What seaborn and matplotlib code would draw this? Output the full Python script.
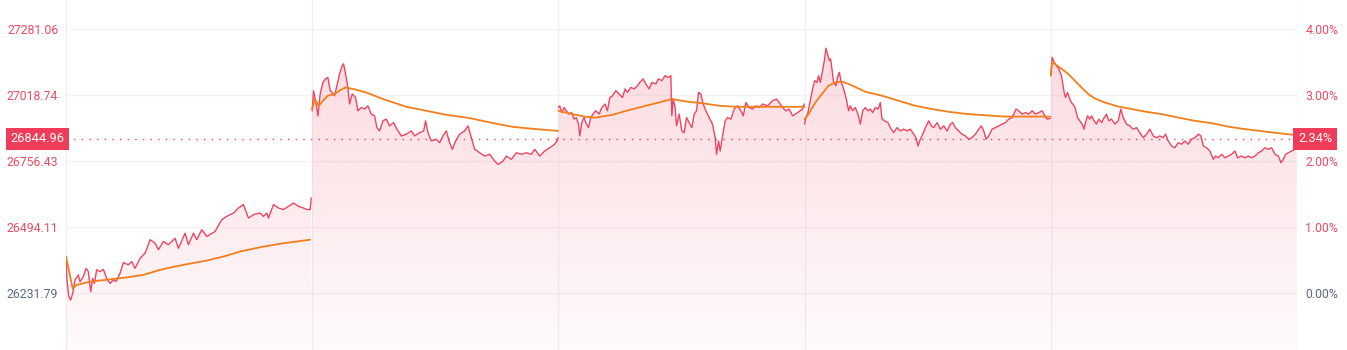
import numpy as np
import pandas as pd
import matplotlib
matplotlib.use("Agg")
import matplotlib.pyplot as plt
import seaborn as sns

# ---------------- data ----------------
base_price = 26231.79
last_price = 26844.96
last_pct = 2.34
price_ticks = [26231.79, 26494.11, 26756.43, 27018.74, 27281.06]
pct_ticks = [0.0, 1.0, 2.0, 3.0, 4.0]

# time steps within each session (0..738) and prices
d1_t = [0, 2, 8, 14, 20, 27, 37, 42, 52, 60, 67, 74, 80, 85, 92, 102, 112, 122, 132, 142, 150, 162, 172, 187,
        197, 207, 222, 237, 252, 267, 277, 292, 307, 327, 337, 357, 367, 382, 392, 407, 422, 447, 467, 482,
        502, 517, 532, 547, 562, 582, 592, 602, 607, 622, 637, 652, 682, 697, 712, 722, 732, 735]
d1_p = [26377, 26297, 26220, 26204, 26230, 26284, 26304, 26277, 26297, 26330, 26317, 26237, 26290, 26270,
        26324, 26317, 26326, 26290, 26270, 26284, 26277, 26310, 26353, 26344, 26357, 26330, 26370, 26390,
        26444, 26430, 26404, 26437, 26424, 26450, 26410, 26470, 26424, 26470, 26444, 26484, 26457, 26477,
        26524, 26537, 26550, 26570, 26584, 26530, 26544, 26550, 26537, 26550, 26530, 26584, 26570, 26564,
        26590, 26577, 26570, 26564, 26564, 26610]
d1_avg_t = [0, 20, 32, 72, 132, 182, 232, 282, 352, 422, 472, 522, 582, 642, 732]
d1_avg = [26377, 26250, 26264, 26277, 26286, 26294, 26304, 26324, 26344, 26361, 26377, 26397, 26414, 26428, 26444]

d2_t = [0, 4, 12, 17, 24, 32, 40, 47, 54, 60, 67, 74, 82, 90, 94, 100, 107, 112, 120, 130, 137, 147, 157, 167,
        177, 187, 194, 202, 212, 222, 232, 244, 254, 267, 282, 297, 307, 322, 334, 340, 347, 357, 372, 382,
        392, 402, 412, 420, 430, 442, 457, 467, 477, 487, 502, 517, 532, 547, 557, 572, 582, 597, 612, 627,
        642, 657, 667, 682, 697, 712, 727, 734, 737]
d2_p = [26957, 27037, 26984, 26937, 27024, 27070, 27084, 27090, 27037, 27030, 27017, 27057, 27104, 27137,
        27144, 27104, 27050, 26984, 27024, 27010, 26957, 26970, 26964, 26977, 26944, 26937, 26890, 26877,
        26917, 26924, 26897, 26910, 26884, 26857, 26864, 26877, 26857, 26870, 26877, 26917, 26870, 26837,
        26844, 26830, 26857, 26877, 26830, 26804, 26837, 26864, 26877, 26897, 26850, 26804, 26790, 26777,
        26784, 26757, 26744, 26757, 26777, 26764, 26790, 26784, 26790, 26784, 26804, 26777, 26797, 26810,
        26824, 26837, 26850]
d2_avg_t = [0, 7, 20, 32, 47, 67, 82, 100, 122, 162, 212, 282, 342, 402, 472, 542, 602, 672, 737]
d2_avg = [26964, 27004, 26977, 26997, 27017, 27024, 27037, 27050, 27044, 27030, 27004, 26973, 26957, 26941,
          26928, 26908, 26893, 26884, 26877]

d3_t = [0, 4, 10, 17, 24, 32, 40, 47, 54, 60, 64, 70, 77, 82, 90, 97, 104, 112, 122, 130, 140, 147, 154, 162,
        172, 182, 192, 200, 207, 217, 227, 237, 244, 254, 262, 272, 280, 292, 300, 310, 320, 327, 334, 337,
        340, 344, 350, 354, 362, 370, 377, 384, 392, 400, 407, 414, 420, 427, 434, 442, 452, 462, 470, 474,
        480, 485, 492, 500, 507, 517, 527, 537, 547, 554, 562, 572, 582, 592, 602, 612, 627, 642, 654, 662,
        672, 682, 692, 702, 717, 732, 737]
d3_p = [26970, 26977, 26950, 26970, 26957, 26944, 26950, 26924, 26930, 26904, 26857, 26910, 26930, 26910,
        26890, 26930, 26944, 26957, 26944, 26970, 26984, 26957, 27010, 27017, 27037, 27024, 27010, 27044,
        27030, 27050, 27044, 27057, 27070, 27084, 27064, 27044, 27070, 27064, 27084, 27077, 27097, 27090,
        27093, 27097, 26937, 27004, 26970, 26897, 26944, 26877, 26870, 26930, 26910, 26890, 26944, 26957,
        27030, 27024, 26984, 26957, 26930, 26904, 26850, 26784, 26837, 26797, 26857, 26917, 26930, 26924,
        26964, 26977, 26957, 26937, 26990, 26970, 26964, 26977, 26970, 26984, 26977, 26997, 27004, 26990,
        26970, 26957, 26964, 26937, 26950, 26964, 26984]
d3_avg_t = [0, 22, 52, 82, 112, 162, 212, 262, 302, 340, 382, 432, 482, 532, 632, 738]
d3_avg = [26957, 26950, 26941, 26933, 26930, 26941, 26960, 26977, 26990, 27004, 26994, 26987, 26977, 26973,
          26973, 26973]

d4_t = [0, 4, 10, 17, 24, 30, 37, 42, 47, 54, 60, 64, 70, 74, 78, 82, 87, 94, 100, 104, 110, 117, 124, 132,
        137, 144, 152, 160, 167, 174, 182, 190, 197, 204, 212, 220, 227, 232, 240, 250, 257, 267, 277, 287,
        297, 307, 317, 327, 334, 340, 347, 354, 362, 372, 380, 387, 397, 407, 417, 427, 437, 444, 452, 462,
        472, 482, 492, 502, 512, 522, 530, 537, 544, 552, 562, 572, 582, 592, 602, 612, 622, 634, 642, 652,
        662, 672, 682, 692, 702, 712, 720, 727, 737]
d4_p = [26904, 26930, 26950, 26997, 27044, 27077, 27070, 27097, 27070, 27117, 27164, 27206, 27177, 27157,
        27164, 27124, 27070, 27057, 27097, 27110, 27070, 27044, 27010, 26957, 26977, 26957, 26970, 26944,
        26904, 26957, 26970, 26957, 26964, 26950, 26970, 26964, 26990, 26924, 26917, 26910, 26890, 26870,
        26890, 26877, 26884, 26877, 26884, 26864, 26850, 26817, 26844, 26864, 26890, 26917, 26897, 26890,
        26910, 26884, 26897, 26877, 26904, 26910, 26890, 26877, 26864, 26857, 26844, 26850, 26864, 26884,
        26897, 26877, 26844, 26857, 26884, 26890, 26897, 26904, 26910, 26924, 26930, 26964, 26957, 26944,
        26950, 26944, 26957, 26944, 26950, 26957, 26937, 26924, 26927]
d4_avg_t = [0, 12, 32, 52, 72, 92, 112, 132, 182, 232, 282, 332, 382, 432, 482, 532, 602, 682, 737]
d4_avg = [26924, 26944, 26990, 27024, 27057, 27070, 27073, 27064, 27033, 27017, 26997, 26977, 26964, 26953,
          26945, 26940, 26934, 26934, 26934]

d5_t = [0, 4, 10, 17, 24, 32, 40, 44, 50, 57, 62, 70, 74, 80, 87, 94, 100, 104, 110, 117, 122, 130, 137, 144,
        152, 160, 167, 174, 182, 192, 202, 210, 217, 227, 237, 247, 257, 267, 277, 287, 297, 307, 317, 327,
        337, 344, 352, 362, 372, 382, 392, 402, 412, 422, 432, 442, 450, 457, 467, 477, 487, 494, 502, 512,
        522, 532, 542, 552, 560, 572, 582, 592, 602, 612, 622, 632, 642, 652, 662, 672, 682, 690, 697, 704,
        712, 722, 732, 737]
d5_p = [27097, 27170, 27150, 27137, 27124, 27097, 27030, 27010, 27030, 27004, 26990, 26977, 26964, 26930,
        26917, 26904, 26884, 26910, 26937, 26924, 26937, 26917, 26904, 26924, 26910, 26930, 26944, 26917,
        26924, 26904, 26917, 26964, 26930, 26904, 26897, 26884, 26890, 26870, 26850, 26864, 26884, 26857,
        26850, 26857, 26850, 26864, 26837, 26817, 26810, 26830, 26824, 26837, 26824, 26844, 26850, 26864,
        26857, 26817, 26810, 26797, 26764, 26777, 26770, 26784, 26770, 26777, 26784, 26797, 26770, 26777,
        26770, 26777, 26770, 26777, 26790, 26797, 26810, 26804, 26810, 26784, 26777, 26750, 26764, 26784,
        26790, 26797, 26804, 26817]
d5_avg_t = [0, 4, 12, 32, 52, 72, 92, 112, 132, 162, 202, 242, 282, 332, 382, 432, 482, 532, 582, 632, 682, 737]
d5_avg = [27097, 27150, 27144, 27124, 27104, 27077, 27050, 27024, 27006, 26990, 26974, 26964, 26954, 26944,
          26930, 26917, 26908, 26894, 26884, 26876, 26868, 26860]

days_t = [d1_t, d2_t, d3_t, d4_t, d5_t]
days_p = [d1_p, d2_p, d3_p, d4_p, d5_p]
avg_t = [d1_avg_t, d2_avg_t, d3_avg_t, d4_avg_t, d5_avg_t]
avg_p = [d1_avg, d2_avg, d3_avg, d4_avg, d5_avg]

# ---------------- build frames ----------------
SESSION = 738
price_df = pd.concat([pd.DataFrame({"day": i, "x": np.array(t) + i * SESSION, "price": p})
                      for i, (t, p) in enumerate(zip(days_t, days_p))], ignore_index=True)
avg_df = pd.concat([pd.DataFrame({"day": i, "x": np.array(t) + i * SESSION, "price": p})
                    for i, (t, p) in enumerate(zip(avg_t, avg_p))], ignore_index=True)

# ---------------- style ----------------
sns.set_theme(style="white")
plt.rcParams['font.family'] = ['Roboto', 'DejaVu Sans']

RED = "#ee4660"
ORANGE = "#f57e1c"
LBL_RED = "#f04a62"
LBL_GREY = "#5b6a82"
BOX = "#ee3c59"

W, H = 1347, 350
fig = plt.figure(figsize=(W / 100, H / 100), dpi=100)
ax = fig.add_axes([66 / W, 0, 1231 / W, 1])

y_lo, y_hi = 26005.0, 27398.0
ax.set_xlim(0, 5 * SESSION)
ax.set_ylim(y_lo, y_hi)

# gradient fill under each session's line
grad = np.linspace(0.22, 0.03, 256)
rgba = np.zeros((256, 1, 4))
rgba[..., :3] = matplotlib.colors.to_rgb(RED)
rgba[:, 0, 3] = grad
for i in range(5):
    sub = price_df[price_df.day == i]
    poly = ax.fill_between(sub.x, sub.price, y_lo, facecolor="none", edgecolor="none")
    im = ax.imshow(rgba, extent=[0, 5 * SESSION, y_lo, y_hi], origin="upper",
                   aspect="auto", zorder=1, interpolation="bilinear")
    im.set_clip_path(poly.get_paths()[0], transform=ax.transData)
ax.set_xlim(0, 5 * SESSION)
ax.set_ylim(y_lo, y_hi)

sns.lineplot(data=price_df, x="x", y="price", units="day", estimator=None,
             color=RED, lw=1.0, ax=ax, zorder=3)
sns.lineplot(data=avg_df, x="x", y="price", units="day", estimator=None,
             color=ORANGE, lw=1.3, ax=ax, zorder=4)

# grid
for p in price_ticks:
    ax.axhline(p, color="#f3f3f3", lw=1, zorder=0.5)
for i in range(6):
    ax.axvline(i * SESSION, color="#f0f0f0", lw=1, zorder=0.5)

ax.axhline(last_price, color=RED, lw=1.0, ls=(0, (1, 4.5)), zorder=5)

for s in ax.spines.values():
    s.set_visible(False)
ax.set_xlabel("")
ax.set_ylabel("")
ax.set_xticks([])
ax.set_yticks(price_ticks)
ax.set_yticklabels([f"{p:.2f}" for p in price_ticks], fontsize=8.8)
ax.tick_params(axis="y", length=0, pad=5.5)
for lab, p in zip(ax.get_yticklabels(), price_ticks):
    lab.set_color(LBL_GREY if abs(p - base_price) < 0.01 else LBL_RED)

ax2 = ax.twinx()
ax2.set_ylim((y_lo / base_price - 1) * 100, (y_hi / base_price - 1) * 100)
ax2.set_yticks(pct_ticks)
ax2.set_yticklabels([f"{v:.2f}%" for v in pct_ticks], fontsize=8.8)
ax2.tick_params(axis="y", length=0, pad=6)
for lab, v in zip(ax2.get_yticklabels(), pct_ticks):
    lab.set_color(LBL_GREY if v == 0 else LBL_RED)
for s in ax2.spines.values():
    s.set_visible(False)
ax2.grid(False)

# last price boxes
ax.text(-0.0012, last_price, f"{last_price:.2f}", transform=ax.get_yaxis_transform(),
        ha="right", va="center", color="white", fontsize=9.2, zorder=10,
        bbox=dict(boxstyle="square,pad=0.36", fc=BOX, ec="none"), clip_on=False)
ax.text(1.0008, last_price, f"{last_pct:.2f}%", transform=ax.get_yaxis_transform(),
        ha="left", va="center", color="white", fontsize=9.2, zorder=10,
        bbox=dict(boxstyle="square,pad=0.36", fc=BOX, ec="none"), clip_on=False)

fig.savefig("out.png", dpi=100)
